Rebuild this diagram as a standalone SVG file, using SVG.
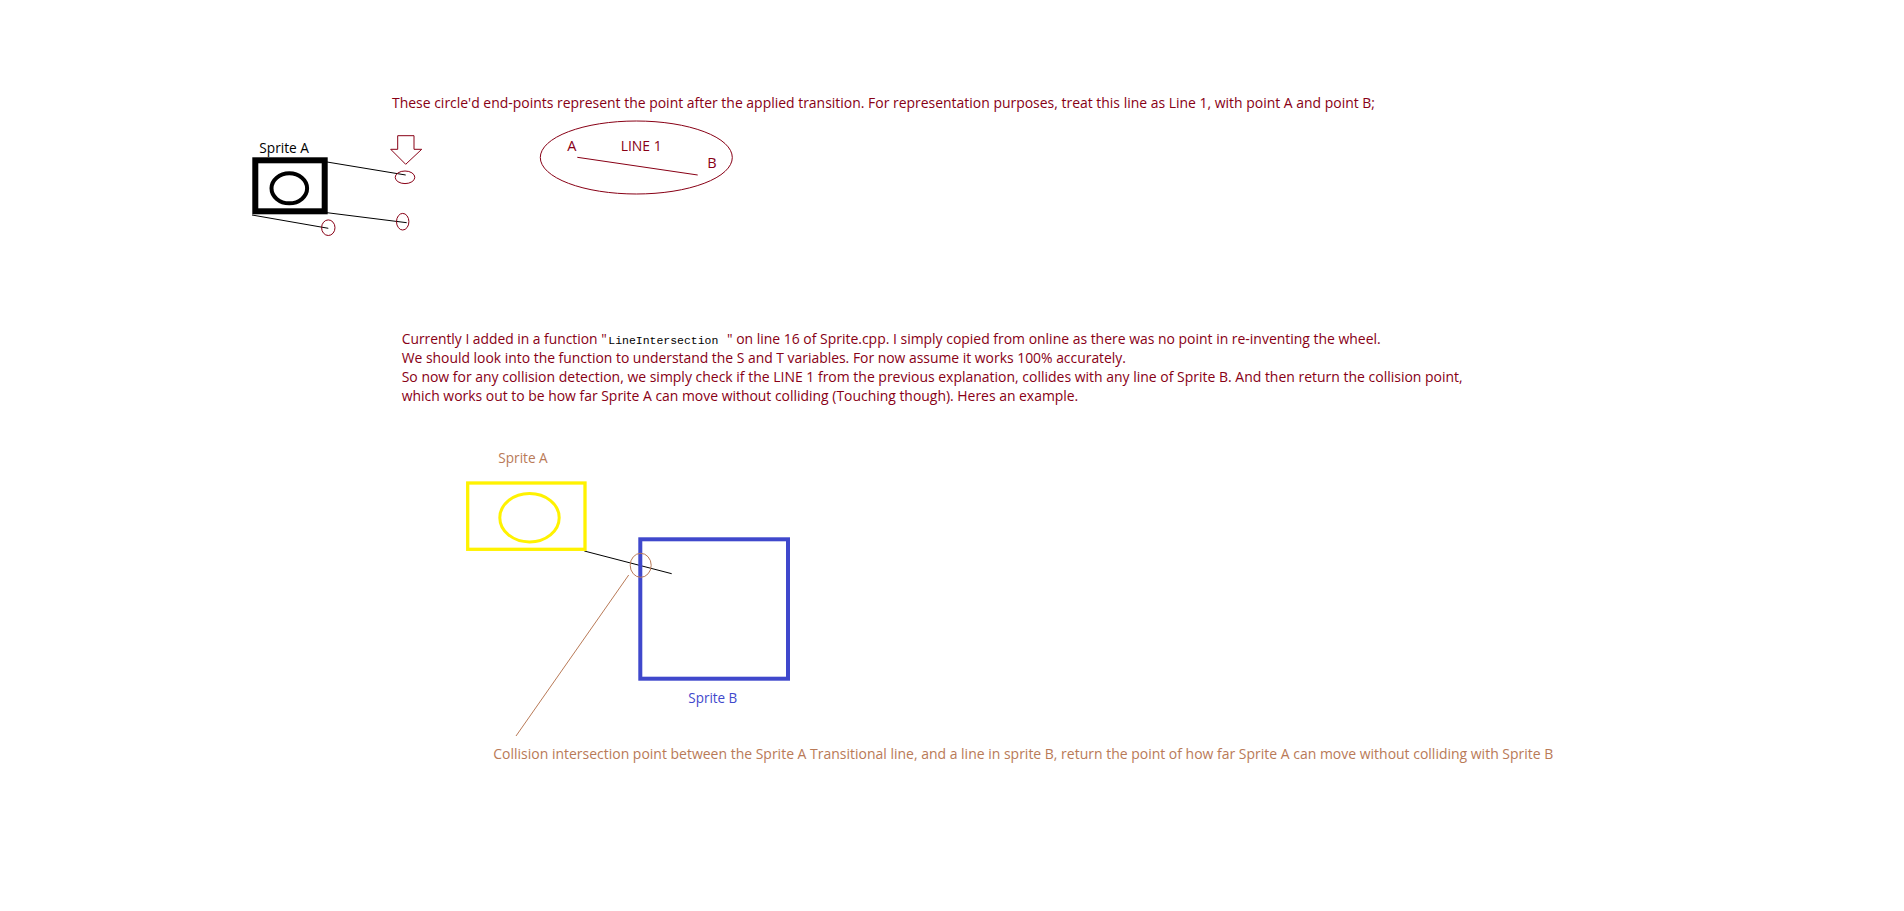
<svg xmlns="http://www.w3.org/2000/svg" width="1904" height="911" viewBox="0 0 1904 911">
<style>
.t{font-family:"Open Sans","Liberation Sans",sans-serif;font-size:14.5px}
.dr{fill:#880015}
.tan{fill:#B97A57}
.bl{fill:#3F48CC}
.k{fill:#000}
.mono{font-family:"Liberation Mono","DejaVu Sans Mono",monospace;font-size:11.5px;fill:#000}
.ln{stroke:#000;stroke-width:1;fill:none}
.drs{stroke:#880015;stroke-width:1;fill:none}
.tans{stroke:#B97A57;stroke-width:1;fill:none}
</style>
<rect x="0" y="0" width="1904" height="911" fill="#fff"/>

<g id="top-text">
<text class="t dr" x="392" y="108.3" textLength="983" lengthAdjust="spacingAndGlyphs">These circle'd end-points represent the point after the applied transition. For representation purposes, treat this line as Line 1, with point A and point B;</text>
</g>

<g id="sprite-a-top">
<text class="t k" x="259.3" y="152.7" textLength="49.7" lengthAdjust="spacingAndGlyphs">Sprite A</text>
<rect x="255.3" y="160.3" width="69.4" height="51" fill="none" stroke="#000" stroke-width="6"/>
<ellipse cx="289.3" cy="188.3" rx="17.8" ry="15" fill="none" stroke="#000" stroke-width="4"/>
</g>

<g id="arrow">
<polygon points="397.7,135.7 414,135.7 414,149.3 421.7,149.3 405.7,164.3 390.7,149.3 397.7,149.3" fill="#fff" stroke="#880015" stroke-width="1"/>
</g>

<g id="connectors">
<line class="ln" x1="327" y1="162" x2="405.7" y2="175"/>
<line class="ln" x1="327" y1="212.7" x2="406.7" y2="222.7"/>
<line class="ln" x1="252" y1="215" x2="328.3" y2="228.3"/>
<line class="drs" x1="577.3" y1="157.3" x2="697.7" y2="175"/>
<line class="ln" x1="584.3" y1="551" x2="671.7" y2="573.7"/>
<line class="tans" x1="628.7" y1="575" x2="516" y2="736"/>
</g>

<g id="endpoints">
<ellipse class="drs" cx="405" cy="177.3" rx="9.8" ry="6.3"/>
<ellipse class="drs" cx="402.7" cy="221.7" rx="6.2" ry="8.3"/>
<ellipse class="drs" cx="328.3" cy="227.7" rx="6.7" ry="7.8"/>
</g>

<g id="line1">
<ellipse class="drs" cx="636.3" cy="157.5" rx="96" ry="36.5"/>
<text class="t dr" x="567.3" y="150.7">A</text>
<text class="t dr" x="620.7" y="150.7" textLength="41" lengthAdjust="spacingAndGlyphs">LINE 1</text>
<text class="t dr" x="707.3" y="167.7">B</text>
</g>

<g id="paragraph">
<text class="t dr" x="401.7" y="344.3" textLength="205" lengthAdjust="spacingAndGlyphs">Currently I added in a function "</text>
<text class="mono" x="608.3" y="344.3" textLength="110" lengthAdjust="spacingAndGlyphs">LineIntersection</text>
<text class="t dr" x="727" y="344.3" textLength="653.7" lengthAdjust="spacingAndGlyphs">" on line 16 of Sprite.cpp. I simply copied from online as there was no point in re-inventing the wheel.</text>
<text class="t dr" x="401.7" y="363.3" textLength="724.3" lengthAdjust="spacingAndGlyphs">We should look into the function to understand the S and T variables. For now assume it works 100% accurately.</text>
<text class="t dr" x="401.7" y="382.3" textLength="1061" lengthAdjust="spacingAndGlyphs">So now for any collision detection, we simply check if the LINE 1 from the previous explanation, collides with any line of Sprite B. And then return the collision point,</text>
<text class="t dr" x="401.7" y="401" textLength="676.6" lengthAdjust="spacingAndGlyphs">which works out to be how far Sprite A can move without colliding (Touching though). Heres an example.</text>
</g>

<g id="sprite-a-bottom">
<text class="t tan" x="498.3" y="462.7" textLength="49.4" lengthAdjust="spacingAndGlyphs">Sprite A</text>
<rect x="467.7" y="483" width="117.3" height="66.3" fill="none" stroke="#FFF200" stroke-width="3.3"/>
<ellipse cx="529.5" cy="517.7" rx="29.7" ry="24.2" fill="none" stroke="#FFF200" stroke-width="3"/>
</g>

<g id="sprite-b">
<rect x="640.3" y="539.3" width="147.7" height="139.4" fill="none" stroke="#3F48CC" stroke-width="4"/>
<text class="t bl" x="688.3" y="703.3" textLength="49" lengthAdjust="spacingAndGlyphs">Sprite B</text>
</g>

<g id="intersection">
<ellipse class="tans" cx="640.7" cy="565.3" rx="10.5" ry="12"/>
</g>

<g id="caption">
<text class="t tan" x="493.3" y="759.3" textLength="1060" lengthAdjust="spacingAndGlyphs">Collision intersection point between the Sprite A Transitional line, and a line in sprite B, return the point of how far Sprite A can move without colliding with Sprite B</text>
</g>
</svg>
